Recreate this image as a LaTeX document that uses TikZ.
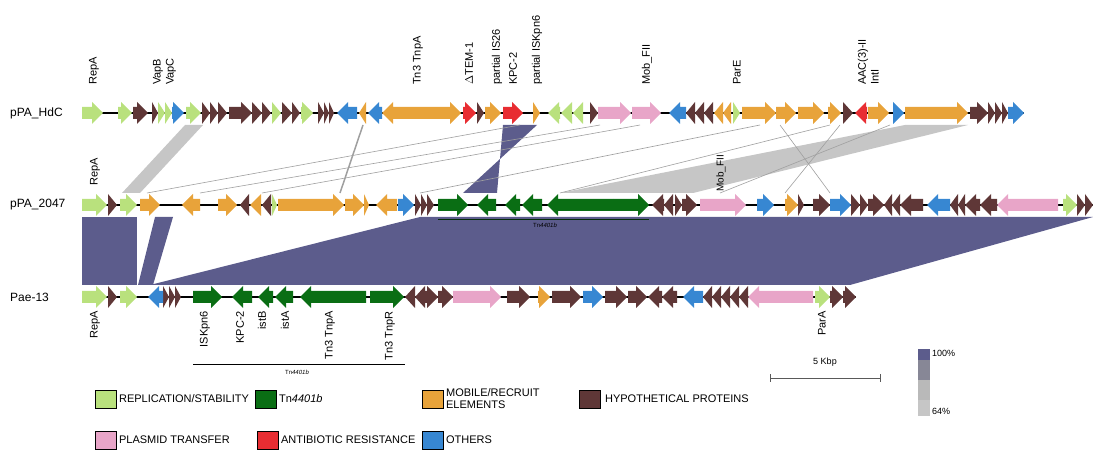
\documentclass[tikz,border=0pt]{standalone}
\usepackage{fontspec}
\setmainfont{Liberation Sans}
\usetikzlibrary{positioning}

\definecolor{repl}{RGB}{185,225,125}
\definecolor{tngreen}{RGB}{10,110,20}
\definecolor{mobile}{RGB}{232,163,58}
\definecolor{hypo}{RGB}{95,55,55}
\definecolor{transfer}{RGB}{232,165,200}
\definecolor{resist}{RGB}{232,45,50}
\definecolor{others}{RGB}{55,135,210}
\definecolor{ident}{RGB}{92,92,140}
\definecolor{identmid}{RGB}{135,135,150}
\definecolor{identlow}{RGB}{198,198,198}

% gene arrows: y, start, end, colour
\newcommand{\generight}[4]{%
  \pgfmathsetmacro{\hx}{max(#2,#3-11)}%
  \fill[#4] (#2,#1-6) -- (\hx,#1-6) -- (\hx,#1-11) -- (#3,#1) -- (\hx,#1+11) -- (\hx,#1+6) -- (#2,#1+6) -- cycle;}
\newcommand{\geneleft}[4]{%
  \pgfmathsetmacro{\hx}{min(#3,#2+11)}%
  \fill[#4] (#3,#1-6) -- (\hx,#1-6) -- (\hx,#1-11) -- (#2,#1) -- (\hx,#1+11) -- (\hx,#1+6) -- (#3,#1+6) -- cycle;}

\tikzset{
  backbone/.style={line width=2pt, black},
  genelbl/.style={rotate=90, inner sep=0pt, font=\fontsize{11}{11}\selectfont},
  tracklbl/.style={anchor=west, inner sep=0pt, font=\fontsize{12}{12}\selectfont},
  legbox/.style={draw=black, line width=0.8pt, minimum width=21pt, minimum height=18pt, inner sep=0pt},
  legtxt/.style={inner sep=0pt, align=left, font=\fontsize{11}{12}\selectfont},
  link/.style={draw=gray!75, line width=0.6pt},
  smalllbl/.style={inner sep=0pt, font=\fontsize{9}{9}\selectfont},
}

\begin{document}
\begin{tikzpicture}[x=1pt,y=-1pt]
\useasboundingbox (0,0) rectangle (1093,454);

% Homology between pPA_HdC and pPA_2047
\fill[identlow] (185,125) -- (203,125) -- (140,193) -- (122,193) -- cycle;
\fill[identlow] (905,125) -- (968,125) -- (693,193) -- (560,193) -- cycle;
\fill[ident] (503,125) -- (537,125) -- (463,193) -- (497,193) -- cycle;
\draw[link, line width=1.5pt] (363,125) -- (340,193);
\draw[link] (520,125) -- (147,193);
\draw[link] (600,125) -- (200,193);
\draw[link] (640,125) -- (262,193);
\draw[link] (760,125) -- (420,193);
\draw[link] (830,125) -- (560,193);
\draw[link] (890,125) -- (720,193);
\draw[link] (840,125) -- (785,193);
\draw[link] (780,125) -- (830,193);

% Homology between pPA_2047 and Pae-13
\fill[ident] (82,217) rectangle (137,285);
\fill[ident] (155,217) -- (173,217) -- (153,285) -- (138,285) -- cycle;
\fill[ident] (420,217) -- (1093,217) -- (850,285) -- (150,285) -- cycle;

% pPA_HdC
\node[tracklbl] (hdc) at (10,113) {pPA\_HdC};
\draw[backbone] (82,113) -- (1024,113);
\foreach \a/\b/\c in {82/103/repl,118/132/repl,133/148/hypo,152/158/hypo,158/165/repl,165/172/repl,
  172/184/others,186/201/repl,202/210/hypo,210/218/hypo,218/227/hypo,229/252/hypo,252/262/hypo,
  262/271/hypo,272/281/repl,282/292/hypo,292/300/hypo,301/313/repl,318/324/hypo,324/329/hypo,
  329/334/hypo,450/461/mobile,463/476/resist,477/484/hypo,485/501/mobile,503/523/resist,
  533/540/mobile,590/598/hypo,598/631/transfer,632/661/transfer,733/740/repl,742/776/mobile,
  776/796/mobile,798/824/mobile,828/841/mobile,843/853/hypo,868/889/mobile,893/904/others,
  905/968/mobile,970/988/hypo,988/995/hypo,995/1002/hypo,1002/1008/hypo,1008/1024/others}
  \generight{113}{\a}{\b}{\c};
\foreach \a/\b/\c in {337/357/others,359/366/mobile,368/382/others,382/450/mobile,548/560/repl,
  561/572/repl,573/583/repl,669/686/others,686/695/hypo,695/704/hypo,704/713/hypo,714/723/mobile,
  723/731/mobile,855/867/resist}
  \geneleft{113}{\a}{\b}{\c};
\node[genelbl, anchor=west] (h1) at (94,85) {RepA};
\node[genelbl, anchor=west] (h2) at (158,85) {VapB};
\node[genelbl, anchor=west] (h3) at (171,85) {VapC};
\node[genelbl, anchor=west] (h4) at (418,85) {Tn3 TnpA};
\node[genelbl, anchor=west] (h5) at (469,85) {$\Delta$TEM-1};
\node[genelbl, anchor=west] (h6) at (497,85) {partial IS26};
\node[genelbl, anchor=west] (h7) at (513,85) {KPC-2};
\node[genelbl, anchor=west] (h8) at (537,85) {partial ISKpn6};
\node[genelbl, anchor=west] (h9) at (647,85) {Mob\_FII};
\node[genelbl, anchor=west] (h10) at (737,85) {ParE};
\node[genelbl, anchor=west] (h11) at (863,85) {AAC(3)-II};
\node[genelbl, anchor=west] (h12) at (875,85) {IntI};

% pPA_2047
\node[tracklbl] (p2047) at (10,205) {pPA\_2047};
\draw[tngreen!40!black, line width=0.8pt] (438,219) -- (649,219);
\draw[backbone] (82,205) -- (1093,205);
\foreach \a/\b/\c in {82/107/repl,108/117/hypo,120/137/repl,140/160/mobile,218/237/mobile,
  272/277/repl,278/344/mobile,345/364/mobile,364/369/mobile,398/414/others,415/421/hypo,
  421/427/hypo,427/434/hypo,438/468/tngreen,613/649/tngreen,675/682/hypo,682/697/hypo,
  700/746/transfer,757/774/others,785/798/mobile,798/804/hypo,813/830/hypo,830/851/others,
  851/860/hypo,860/868/hypo,868/884/hypo,1063/1077/repl,1077/1085/hypo,1085/1093/hypo}
  \generight{205}{\a}{\b}{\c};
\foreach \a/\b/\c in {182/200/mobile,240/249/hypo,250/261/mobile,262/271/hypo,376/397/mobile,
  477/496/tngreen,505/520/tngreen,522/542/tngreen,547/613/tngreen,652/664/hypo,664/673/hypo,
  884/892/hypo,892/900/hypo,900/923/hypo,927/950/others,950/958/hypo,958/965/hypo,965/980/hypo,
  980/997/hypo,997/1058/transfer}
  \geneleft{205}{\a}{\b}{\c};
\node[genelbl, anchor=west] (q1) at (95,186) {RepA};
\node[genelbl, anchor=west, font=\fontsize{10}{10}\selectfont] (q2) at (721,192) {Mob\_FII};
\node[inner sep=0pt, font=\fontsize{6}{6}\selectfont] (q3) at (545,225) {Tn\textit{4401b}};

% Pae-13
\node[tracklbl] (pae) at (10,297) {Pae-13};
\draw[backbone] (82,297) -- (856,297);
\foreach \a/\b/\c in {82/107/repl,108/117/hypo,120/137/repl,163/169/hypo,169/175/hypo,
  175/181/hypo,193/222/tngreen,370/404/tngreen,425/438/hypo,438/453/hypo,453/501/transfer,
  507/530/hypo,538/550/mobile,552/581/hypo,583/603/others,605/627/hypo,628/647/hypo,
  815/830/repl,830/843/hypo,843/856/hypo}
  \generight{297}{\a}{\b}{\c};
\foreach \a/\b/\c in {148/163/others,232/252/tngreen,258/273/tngreen,275/293/tngreen,
  300/366/tngreen,405/415/hypo,415/425/hypo,648/662/hypo,662/677/hypo,683/703/others,
  703/712/hypo,712/721/hypo,721/730/hypo,730/739/hypo,739/748/hypo,748/813/transfer}
  \geneleft{297}{\a}{\b}{\c};
\node[genelbl, anchor=east] (r1) at (95,311) {RepA};
\node[genelbl, anchor=east] (r2) at (205,311) {ISKpn6};
\node[genelbl, anchor=east] (r3) at (240,311) {KPC-2};
\node[genelbl, anchor=east] (r4) at (262,311) {istB};
\node[genelbl, anchor=east] (r5) at (285,311) {istA};
\node[genelbl, anchor=east] (r6) at (330,311) {Tn3 TnpA};
\node[genelbl, anchor=east] (r7) at (390,311) {Tn3 TnpR};
\node[genelbl, anchor=east] (r8) at (822,311) {ParA};

% Tn4401b span
\coordinate (tnl) at (193,364);
\coordinate (tnr) at (405,364);
\draw[line width=0.8pt] (tnl) -- (tnr);
\node[inner sep=0pt, font=\fontsize{6}{6}\selectfont] (tnlbl) at (297,372) {Tn\textit{4401b}};

% scale bar
\coordinate (sbl) at (770,378);
\coordinate (sbr) at (880,378);
\draw[gray!70!black, line width=0.7pt] (sbl) -- (sbr);
\draw[gray!70!black, line width=0.7pt] ([yshift=-4pt]sbl) -- ([yshift=4pt]sbl);
\draw[gray!70!black, line width=0.7pt] ([yshift=-4pt]sbr) -- ([yshift=4pt]sbr);
\node[smalllbl] (sblbl) at (825,362) {5 Kbp};

% identity scale
\fill[ident] (918,349) rectangle (930,360);
\fill[identmid] (918,360) rectangle (930,380);
\fill[gray!55] (918,380) rectangle (930,400);
\fill[identlow] (918,400) rectangle (930,416);
\node[smalllbl, anchor=west] (idhi) at (932,353) {100\%};
\node[smalllbl, anchor=west] (idlo) at (932,411) {64\%};

% legend
\node[legbox, fill=repl] (lg1) at (106,399) {};
\node[legtxt, right=2pt of lg1] (lt1) {REPLICATION/STABILITY};
\node[legbox, fill=tngreen] (lg2) at (266,399) {};
\node[legtxt, right=2pt of lg2] (lt2) {Tn\textit{4401b}};
\node[legbox, fill=mobile] (lg3) at (433,399) {};
\node[legtxt, right=2pt of lg3] (lt3) {MOBILE/RECRUIT\\ELEMENTS};
\node[legbox, fill=hypo] (lg4) at (590,399) {};
\node[legtxt, right=4pt of lg4] (lt4) {HYPOTHETICAL PROTEINS};
\node[legbox, fill=transfer] (lg5) at (106,440) {};
\node[legtxt, right=2pt of lg5] (lt5) {PLASMID TRANSFER};
\node[legbox, fill=resist] (lg6) at (268,440) {};
\node[legtxt, right=2pt of lg6] (lt6) {ANTIBIOTIC RESISTANCE};
\node[legbox, fill=others] (lg7) at (433,440) {};
\node[legtxt, right=2pt of lg7] (lt7) {OTHERS};
\end{tikzpicture}
\end{document}
